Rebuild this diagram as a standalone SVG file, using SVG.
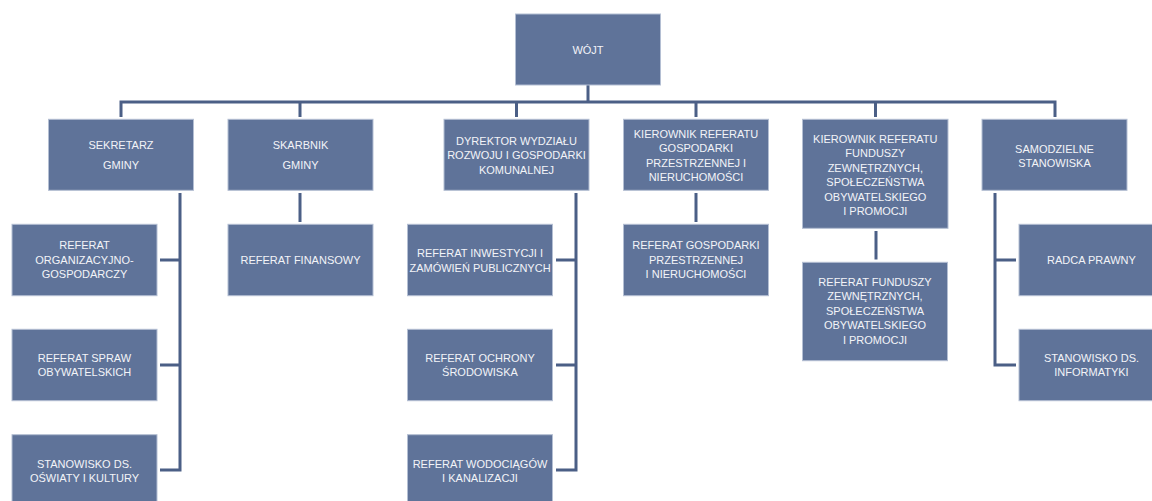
<svg xmlns="http://www.w3.org/2000/svg" width="1152" height="501" viewBox="0 0 1152 501">
<style>
.box{fill:#5F7399;stroke:#B4BFD3;stroke-width:1}
.t{font-family:"Liberation Sans",Arial,sans-serif;font-size:11px;fill:#F3F4F8;text-anchor:middle}
.ln{fill:none;stroke:#4B5F86;stroke-width:3}
</style>
<rect width="1152" height="501" fill="#FFFFFF"/>
<g id="connectors">
<path class="ln" d="M588,85 V102"/>
<path class="ln" d="M121,117 V102 H1055 V117"/>
<path class="ln" d="M300,102 V117 M516.5,102 V117 M696,102 V117 M875.5,102 V117"/>
<path class="ln" d="M180,193 V470 H160 M160,260 H180 M160,365 H180"/>
<path class="ln" d="M300,193 V222"/>
<path class="ln" d="M576,193 V470 H556 M556,260 H576 M556,365 H576"/>
<path class="ln" d="M696,193 V222"/>
<path class="ln" d="M876,231 V259.5"/>
<path class="ln" d="M995,193 V365 H1016 M995,260 H1016"/>
</g>
<g id="wojt"><rect class="box" x="515.5" y="14" width="145" height="71"/><text class="t" x="588" y="54">WÓJT</text></g>
<g id="sekretarz"><rect class="box" x="48.5" y="119.3" width="145" height="71"/><text class="t" x="121" y="149">SEKRETARZ</text><text class="t" x="121" y="169">GMINY</text></g>
<g id="skarbnik"><rect class="box" x="228" y="119.3" width="145" height="71"/><text class="t" x="300.5" y="149">SKARBNIK</text><text class="t" x="300.5" y="169">GMINY</text></g>
<g id="dyrektor"><rect class="box" x="444" y="119.3" width="145" height="71"/><text class="t" x="516.5" y="144.5">DYREKTOR WYDZIAŁU</text><text class="t" x="516.5" y="159">ROZWOJU I GOSPODARKI</text><text class="t" x="516.5" y="173.5">KOMUNALNEJ</text></g>
<g id="kierownik-gp"><rect class="box" x="623.5" y="119.3" width="145" height="71"/><text class="t" x="696" y="137.5">KIEROWNIK REFERATU</text><text class="t" x="696" y="152">GOSPODARKI</text><text class="t" x="696" y="166.5">PRZESTRZENNEJ I</text><text class="t" x="696" y="181">NIERUCHOMOŚCI</text></g>
<g id="kierownik-fz"><rect class="box" x="802.5" y="119.3" width="145.5" height="109"/><text class="t" x="875.3" y="142.5">KIEROWNIK REFERATU</text><text class="t" x="875.3" y="157">FUNDUSZY</text><text class="t" x="875.3" y="171.5">ZEWNĘTRZNYCH,</text><text class="t" x="875.3" y="186">SPOŁECZEŃSTWA</text><text class="t" x="875.3" y="200.5">OBYWATELSKIEGO</text><text class="t" x="875.3" y="215">I PROMOCJI</text></g>
<g id="samodzielne"><rect class="box" x="982" y="119.3" width="145" height="71"/><text class="t" x="1054.5" y="153">SAMODZIELNE</text><text class="t" x="1054.5" y="167">STANOWISKA</text></g>
<g id="ref-org"><rect class="box" x="12" y="224.3" width="145" height="71.4"/><text class="t" x="84.5" y="249">REFERAT</text><text class="t" x="84.5" y="263.5">ORGANIZACYJNO-</text><text class="t" x="84.5" y="278">GOSPODARCZY</text></g>
<g id="ref-spraw"><rect class="box" x="12" y="329.3" width="145" height="71.4"/><text class="t" x="84.5" y="361.5">REFERAT SPRAW</text><text class="t" x="84.5" y="376">OBYWATELSKICH</text></g>
<g id="stan-oswiaty"><rect class="box" x="12" y="434.7" width="145" height="71.4"/><text class="t" x="84.5" y="467.5">STANOWISKO DS.</text><text class="t" x="84.5" y="481.5">OŚWIATY I KULTURY</text></g>
<g id="ref-fin"><rect class="box" x="228" y="224.3" width="145" height="71.4"/><text class="t" x="300.5" y="264">REFERAT FINANSOWY</text></g>
<g id="ref-inw"><rect class="box" x="407.5" y="224.3" width="145" height="71.4"/><text class="t" x="480" y="257">REFERAT INWESTYCJI I</text><text class="t" x="480" y="271.5">ZAMÓWIEŃ PUBLICZNYCH</text></g>
<g id="ref-och"><rect class="box" x="407.5" y="329.3" width="145" height="71.4"/><text class="t" x="480" y="361.5">REFERAT OCHRONY</text><text class="t" x="480" y="376">ŚRODOWISKA</text></g>
<g id="ref-wod"><rect class="box" x="407.5" y="434.7" width="145" height="71.4"/><text class="t" x="480" y="467.5">REFERAT WODOCIĄGÓW</text><text class="t" x="480" y="481.5">I KANALIZACJI</text></g>
<g id="ref-gp"><rect class="box" x="623.5" y="224.3" width="145" height="71.4"/><text class="t" x="696" y="249">REFERAT GOSPODARKI</text><text class="t" x="696" y="263.5">PRZESTRZENNEJ</text><text class="t" x="696" y="278">I NIERUCHOMOŚCI</text></g>
<g id="ref-fz"><rect class="box" x="802.5" y="262.3" width="145" height="98.4"/><text class="t" x="875" y="285.5">REFERAT FUNDUSZY</text><text class="t" x="875" y="300">ZEWNĘTRZNYCH,</text><text class="t" x="875" y="314.5">SPOŁECZEŃSTWA</text><text class="t" x="875" y="329">OBYWATELSKIEGO</text><text class="t" x="875" y="343.5">I PROMOCJI</text></g>
<g id="radca"><rect class="box" x="1019" y="224.3" width="145" height="71.4"/><text class="t" x="1091.5" y="264">RADCA PRAWNY</text></g>
<g id="stan-inf"><rect class="box" x="1019" y="329.3" width="145" height="71.4"/><text class="t" x="1091.5" y="361.5">STANOWISKO DS.</text><text class="t" x="1091.5" y="376">INFORMATYKI</text></g>
</svg>
